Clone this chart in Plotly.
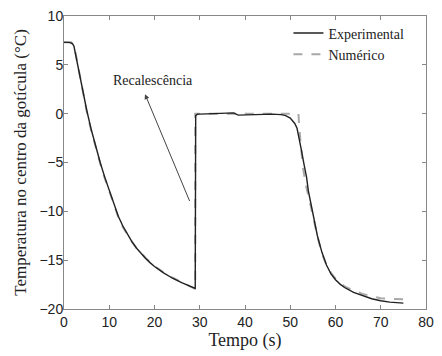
import plotly.graph_objects as go

# ---- data ----
t_exp = [0, 0.5, 1.0, 1.5, 1.9, 2.2, 3, 4, 5, 6, 7, 8, 9, 10, 11, 12, 13, 14, 15, 16, 17, 18,
         19, 20, 22, 24, 26, 28, 29.0, 29.1, 29.5, 30, 32, 34, 36, 37.5, 38.5, 40, 42, 44, 46,
         48, 49, 50, 51, 51.5, 52, 52.5, 53, 53.6, 54, 55, 56, 57, 58, 59, 60, 61, 62, 64, 66,
         68, 70, 72, 75]
T_exp = [7.3, 7.32, 7.3, 7.25, 7.15, 6.9, 5.0, 2.6, 0.4, -1.6, -3.4, -5.0, -6.5, -7.9, -9.3,
         -10.5, -11.5, -12.35, -13.1, -13.75, -14.3, -14.8, -15.25, -15.65, -16.3, -16.85, -17.3,
         -17.75, -17.9, -0.2, -0.05, -0.05, -0.02, 0.0, 0.02, 0.08, -0.15, -0.12, -0.1, -0.08,
         -0.05, -0.1, -0.2, -0.45, -1.0, -1.5, -2.5, -3.8, -5.1, -6.5, -7.9, -10.2, -12.5, -14.2,
         -15.5, -16.4, -17.0, -17.45, -17.8, -18.3, -18.65, -18.95, -19.15, -19.3, -19.4]

t_num = [0, 1.6, 2.0, 2.4, 3, 4, 5, 6, 7, 8, 9, 10, 11, 12, 13, 14, 15, 16, 17, 18, 19, 20,
         22, 24, 26, 28, 29.0, 29.0, 30, 35, 40, 45, 50, 51.8, 52.1, 52.8, 53.5, 54.3, 55, 56,
         57, 58, 59, 60, 62, 64, 66, 68, 70, 72, 75]
T_num = [7.3, 7.3, 7.1, 6.6, 5.1, 2.7, 0.3, -1.7, -3.5, -5.1, -6.6, -8.0, -9.4, -10.6, -11.6,
         -12.4, -13.1, -13.75, -14.3, -14.75, -15.2, -15.6, -16.25, -16.8, -17.25, -17.7, -17.95,
         0.0, 0.0, 0.0, 0.0, 0.0, 0.0, 0.0, -2.0, -5.5, -7.4, -8.9, -10.4, -12.6, -14.3, -15.5,
         -16.3, -16.9, -17.7, -18.1, -18.45, -18.7, -18.9, -18.95, -19.0]

x_ticks = [0, 10, 20, 30, 40, 50, 60, 70, 80]
y_ticks = [-20, -15, -10, -5, 0, 5, 10]

serif = "Liberation Serif, Times New Roman, serif"
sans = "Liberation Sans, Arial, sans-serif"

fig = go.Figure()
fig.add_trace(go.Scatter(x=t_num, y=T_num, mode="lines", name="Numérico",
                         line=dict(color="#a8a8a8", width=2, dash="dash")))
fig.add_trace(go.Scatter(x=t_exp, y=T_exp, mode="lines", name="Experimental",
                         line=dict(color="#222222", width=1.4)))

axis_common = dict(showline=True, linecolor="#888888", linewidth=1, mirror="ticks",
                   ticks="inside", ticklen=4, tickcolor="#888888", showgrid=False,
                   zeroline=False, tickfont=dict(family=sans, size=14, color="#222"))

fig.update_layout(
    width=442, height=356,
    margin=dict(l=64, r=8, t=15, b=47),
    paper_bgcolor="white", plot_bgcolor="white",
    xaxis=dict(range=[0, 80], tickvals=x_ticks,
               title=dict(text="Tempo (s)", font=dict(family=serif, size=18, color="#222"),
                          standoff=2),
               **axis_common),
    yaxis=dict(range=[-20, 10], tickvals=y_ticks, ticklabelstandoff=-3,
               title=dict(text="Temperatura no centro da gotícula (°C)",
                          font=dict(family=serif, size=17, color="#222"), standoff=8),
               **axis_common),
    legend=dict(x=0.62, y=0.995, xanchor="left", yanchor="top", traceorder="reversed",
                bgcolor="rgba(0,0,0,0)", font=dict(family=serif, size=14, color="#222"),
                itemwidth=30, tracegroupgap=0),
    showlegend=True,
)

fig.add_annotation(x=19.7, y=3.4, xref="x", yref="y", text="Recalescência", showarrow=False,
                   font=dict(family=serif, size=14, color="#222"))
fig.add_annotation(x=17.9, y=2.0, ax=27.9, ay=-9.1, xref="x", yref="y", axref="x", ayref="y",
                   text="", showarrow=True, arrowhead=2, arrowsize=1, arrowwidth=1,
                   arrowcolor="#444")

fig.write_html("out.html")
